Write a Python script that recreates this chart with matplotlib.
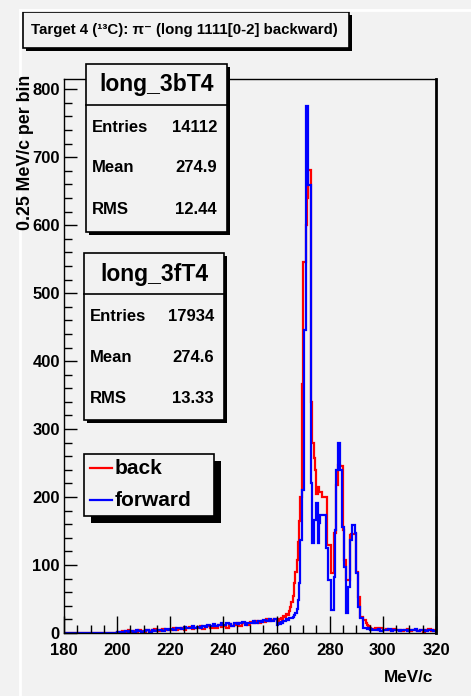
import numpy as np
import matplotlib
matplotlib.use("Agg")
import matplotlib.pyplot as plt
from matplotlib.patches import Rectangle
from matplotlib.lines import Line2D
from matplotlib.ticker import MultipleLocator

# ---- data (counts per bin) ----
# 180-200 MeV/c: empty
# 200-260 MeV/c in 1 MeV/c steps
back_low = [2, 1, 3, 2, 4, 1, 3, 2, 5, 3, 2, 4, 3, 5, 6, 3, 4, 6, 5, 4,
            5, 7, 4, 6, 8, 5, 7, 9, 6, 8, 7, 10, 6, 9, 11, 8, 10, 7, 12, 9,
            11, 8, 13, 10, 12, 14, 11, 15, 13, 12, 16, 14, 17, 15, 18, 16, 20, 17, 19, 21]
fwd_low = [1, 2, 1, 3, 2, 3, 2, 4, 3, 2, 3, 4, 2, 5, 3, 4, 5, 3, 6, 4,
           6, 5, 7, 8, 6, 9, 7, 8, 10, 7, 9, 8, 11, 9, 12, 10, 13, 11, 12, 14,
           12, 14, 13, 11, 15, 13, 14, 16, 12, 15, 14, 17, 15, 18, 16, 19, 17, 20, 18, 21]
# 260-296 MeV/c in 0.5 MeV/c steps
back_peak = [18, 15, 20, 22, 18, 25, 24, 28, 26, 32,
             38, 45, 55, 73, 90, 107, 134, 165, 200, 367,
             546, 546, 600, 640, 681, 681, 340, 279, 257, 240,
             205, 215, 207, 207, 200, 200, 200, 200, 129, 129,
             129, 88, 88, 147, 147, 218, 247, 247, 245, 245,
             151, 107, 78, 78, 78, 144, 145, 145, 145, 145,
             90, 53, 53, 24, 24, 19, 19, 15, 12, 10,
             8, 6]
fwd_peak = [12, 14, 13, 16, 15, 18, 17, 20, 19, 22,
            22, 22, 24, 26, 30, 36, 49, 73, 137, 210,
            210, 446, 776, 776, 659, 659, 220, 132, 166, 166,
            191, 132, 162, 174, 174, 174, 174, 125, 125, 78,
            78, 34, 34, 82, 151, 240, 279, 279, 240, 156,
            156, 97, 29, 29, 68, 137, 137, 159, 159, 147,
            88, 38, 38, 22, 22, 7, 8, 7, 6, 7,
            5, 6]
# 296-320 MeV/c in 1 MeV/c steps
back_high = [6, 7, 5, 8, 4, 6, 5, 3, 6, 4, 5, 3, 4, 6, 3, 5, 4, 3, 5, 2, 4, 6, 3, 4]
fwd_high = [5, 4, 6, 3, 5, 4, 6, 3, 5, 4, 3, 5, 4, 3, 5, 4, 6, 3, 4, 5, 3, 4, 5, 3]

edges = np.concatenate([[180], np.arange(200, 260.01, 1), np.arange(260.5, 296.01, 0.5),
                        np.arange(297, 320.01, 1)])
back = np.array([0] + back_low + back_peak + back_high)
fwd = np.array([0] + fwd_low + fwd_peak + fwd_high)

stats = [("long_3bT4", "14112", "274.9", "12.44"),
         ("long_3fT4", "17934", "274.6", "13.33")]
title = "Target 4 (\u00b9\u00b3C): \u03c0\u207b (long 1111[0-2] backward)"

W, H = 471, 696
BG = "#f2f2f2"
FONT = ["Liberation Sans", "DejaVu Sans"]
plt.rcParams["font.family"] = FONT
plt.rcParams["font.weight"] = "bold"

fig = plt.figure(figsize=(W / 100, H / 100), dpi=100, facecolor=BG)


def fx(px):
    return px / W


def fy(py):
    return 1 - py / H


def box(x0, y0, x1, y1, shadow=3):
    # shadow first, then the framed box
    fig.patches.append(Rectangle((fx(x0 + shadow), fy(y1 + shadow)), fx(x1 - x0), (y1 - y0) / H,
                                 transform=fig.transFigure, facecolor="black", edgecolor="none"))
    fig.patches.append(Rectangle((fx(x0), fy(y1)), fx(x1 - x0), (y1 - y0) / H,
                                 transform=fig.transFigure, facecolor=BG, edgecolor="black", lw=1.2))


# pad bevel
fig.lines.append(Line2D([fx(20), fx(20)], [fy(10), 0], transform=fig.transFigure, color="white", lw=2))
fig.lines.append(Line2D([fx(20), 1], [fy(10), fy(10)], transform=fig.transFigure, color="white", lw=2))

ax = fig.add_axes([fx(64), fy(633), fx(436 - 64), (633 - 79) / H])
ax.set_facecolor(BG)
ax.stairs(back, edges, color="#ff0000", lw=1.6)
ax.stairs(fwd, edges, color="#0000ff", lw=1.6)
ax.set_xlim(180, 320)
ax.set_ylim(0, 815)
ax.xaxis.set_major_locator(MultipleLocator(20))
ax.xaxis.set_minor_locator(MultipleLocator(5))
ax.yaxis.set_major_locator(MultipleLocator(100))
ax.yaxis.set_minor_locator(MultipleLocator(20))
ax.tick_params(axis="x", which="major", direction="in", length=12, width=1, pad=7, labelsize=12)
ax.tick_params(axis="x", which="minor", direction="in", length=5.5, width=1)
ax.tick_params(axis="y", which="major", direction="in", length=9.5, width=1, pad=3, labelsize=12)
ax.tick_params(axis="y", which="minor", direction="in", length=5.5, width=1)
for s in ax.spines.values():
    s.set_linewidth(1)
ax.spines["right"].set_linewidth(2)
for lab in ax.get_xticklabels() + ax.get_yticklabels():
    lab.set_fontweight("bold")

fig.text(fx(26), fy(75), "0.25 MeV/c per bin", rotation=90, ha="center", va="top",
         fontsize=12.8, fontweight="bold")
fig.text(fx(433), fy(678), "MeV/c", ha="right", va="center", fontsize=12.3, fontweight="bold")

# title box
box(23, 12, 349, 48, shadow=3)
fig.text(fx(184), fy(30), title, ha="center", va="center", fontsize=10.8, fontweight="bold")

# stat boxes
for (name, ent, mean, rms), (x0, y0, x1, y1) in zip(stats, [(86, 64, 227, 232), (84, 253, 224, 420)]):
    box(x0, y0, x1, y1, shadow=3)
    fig.lines.append(Line2D([fx(x0), fx(x1)], [fy(y0 + 41), fy(y0 + 41)],
                            transform=fig.transFigure, color="black", lw=1.2))
    fig.text(fx((x0 + x1) / 2), fy(y0 + 21), name, ha="center", va="center", fontsize=16.5, fontweight="bold")
    for k, (lab, val) in enumerate([("Entries", ent), ("Mean", mean), ("RMS", rms)]):
        yy = y0 + 63 + 41 * k
        fig.text(fx(x0 + 6), fy(yy), lab, ha="left", va="center", fontsize=12, fontweight="bold")
        fig.text(fx(x1 - 10), fy(yy), val, ha="right", va="center", fontsize=12, fontweight="bold")

# legend
box(84, 454, 214, 516, shadow=7)
for k, (lab, col) in enumerate([("back", "#ff0000"), ("forward", "#0000ff")]):
    yy = 468 + 32 * k
    fig.lines.append(Line2D([fx(90), fx(112)], [fy(yy), fy(yy)], transform=fig.transFigure, color=col, lw=1.6))
    fig.text(fx(115), fy(yy), lab, ha="left", va="center", fontsize=15, fontweight="bold")

fig.savefig("out.png", dpi=100, facecolor=BG)
